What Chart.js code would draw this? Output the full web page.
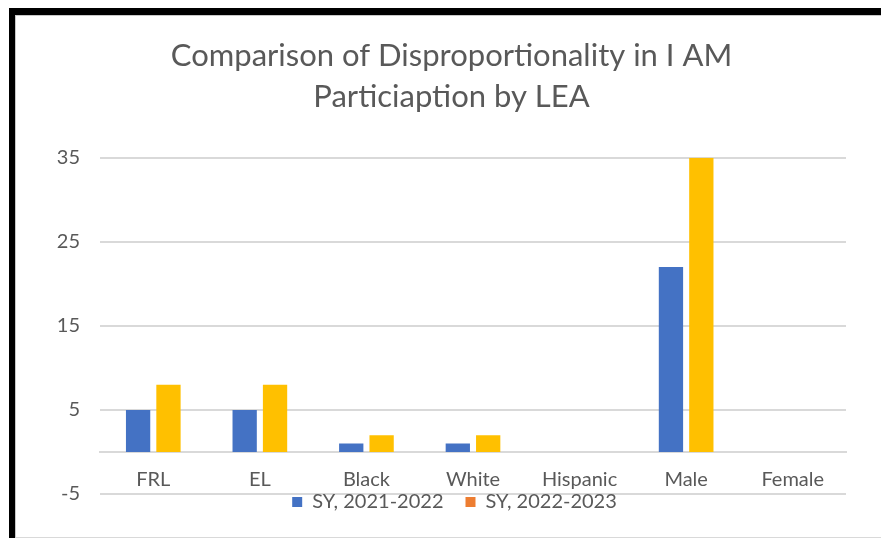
<!DOCTYPE html>
<html>
<head>
<meta charset="utf-8">
<title>Disproportionality in I AM Participation</title>
<script src="https://cdn.jsdelivr.net/npm/chart.js@4.4.1/dist/chart.umd.min.js"></script>
<style>
  html, body { margin: 0; padding: 0; background: #fff; }
  #wrap { position: relative; width: 881px; height: 538px; overflow: hidden; }
  #box { position: absolute; left: 23px; top: 0; width: 858px; height: 538px; }
  #frame {
    position: absolute; left: 9px; top: 8px; right: 0; bottom: 0;
    border-top: 7px solid #000; border-left: 6px solid #000;
    pointer-events: none;
  }
  #inner {
    position: absolute; left: 15px; top: 15px; right: 0; height: 521px;
    border-top: 1px solid #c8c8c8; border-left: 1px solid #c8c8c8;
    border-bottom: 1px solid #d9d9d9;
    pointer-events: none;
  }
</style>
</head>
<body>
<div id="wrap">
  <div id="box"><canvas id="chart"></canvas></div>
  <div id="frame"></div>
  <div id="inner"></div>
</div>
<script>
const categories = ["FRL", "EL", "Black", "White", "Hispanic", "Male", "Female"];
const seriesNames = ["SY, 2021-2022", "SY, 2022-2023"];
const sy2122 = [5, 5, 1, 1, 0, 22, 0];
const sy2223 = [8, 8, 2, 2, 0, 35, 0];
const yTicks = [-5, 5, 15, 25, 35];

const barColors = ["#4472C4", "#FFC000"];
const legendColors = ["#4472C4", "#ED7D31"];
const textColor = "#595959";
const gridColor = "#D9D9D9";

// pull the legend up so it hugs the bottom gridline
const legendNudge = {
  id: "legendNudge",
  afterLayout(chart) {
    const lg = chart.legend;
    if (lg) {
      lg.top -= 24;
      lg.bottom -= 24;
      lg.left += 3;
      lg.right += 3;
    }
  },
};

new Chart(document.getElementById("chart"), {
  type: "bar",
  data: {
    labels: categories,
    datasets: [
      {
        label: seriesNames[0],
        data: sy2122,
        backgroundColor: barColors[0],
        categoryPercentage: 0.57,
        barPercentage: 0.8,
      },
      {
        label: seriesNames[1],
        data: sy2223,
        backgroundColor: barColors[1],
        categoryPercentage: 0.57,
        barPercentage: 0.8,
      },
    ],
  },
  options: {
    responsive: true,
    maintainAspectRatio: false,
    animation: false,
    layout: {
      padding: { top: 0, left: 34, right: 35, bottom: 0 },
    },
    plugins: {
      title: {
        display: true,
        text: ["Comparison of Disproportionality in I AM", "Particiaption by LEA"],
        color: textColor,
        font: { family: "Lato", size: 31, weight: "normal", lineHeight: 1.32 },
        padding: { top: 36, bottom: 40 },
      },
      legend: {
        display: true,
        position: "bottom",
        maxHeight: 44,
        labels: {
          color: textColor,
          font: { family: "Lato", size: 20 },
          boxWidth: 10,
          boxHeight: 10,
          padding: 22,
          generateLabels(chart) {
            const items = Chart.defaults.plugins.legend.labels.generateLabels(chart);
            items.forEach((item, i) => {
              item.fillStyle = legendColors[i];
              item.strokeStyle = legendColors[i];
              item.lineWidth = 0;
            });
            return items;
          },
        },
      },
      tooltip: { enabled: false },
    },
    scales: {
      x: {
        position: { y: 0 },
        grid: { display: false, drawTicks: false },
        border: { display: true, color: gridColor, width: 2 },
        ticks: {
          color: textColor,
          font: { family: "Lato", size: 20 },
          padding: 16,
          maxRotation: 0,
        },
        afterFit(scale) {
          scale.height = 0;
        },
      },
      y: {
        min: yTicks[0],
        max: yTicks[yTicks.length - 1],
        grid: { color: gridColor, lineWidth: 2, drawTicks: false },
        border: { display: false },
        ticks: {
          stepSize: 10,
          color: textColor,
          font: { family: "Lato", size: 20 },
          padding: 20,
        },
        afterBuildTicks(scale) {
          scale.ticks = yTicks.map((v) => ({ value: v }));
        },
        afterFit(scale) {
          scale.width = 43;
        },
      },
    },
  },
  plugins: [legendNudge],
});
</script>
</body>
</html>
